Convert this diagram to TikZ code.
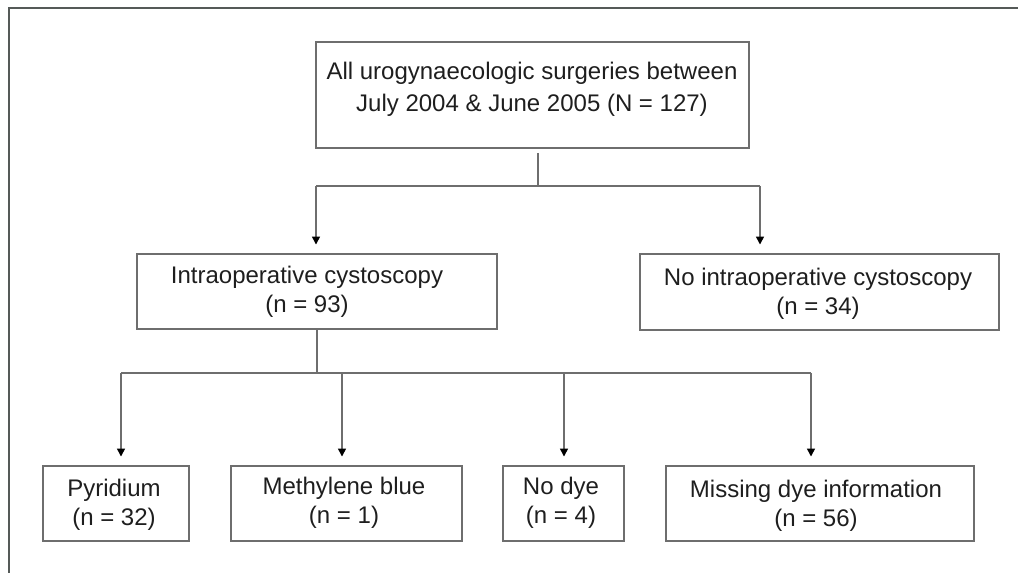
\documentclass[tikz,border=0pt]{standalone}
\usepackage{fontspec}
\setmainfont{Liberation Sans}
\usetikzlibrary{arrows.meta}
\definecolor{linegray}{RGB}{110,110,110}
\definecolor{framegray}{RGB}{85,90,88}
\definecolor{txtcol}{RGB}{30,30,30}
\tikzset{
  boxnode/.style={draw=linegray, line width=1.2pt, rectangle, inner sep=0pt},
  txtnode/.style={align=center, text=txtcol, inner sep=0pt, font=\fontsize{18}{22}\selectfont},
  conn/.style={draw=linegray, line width=1.1pt},
  arr/.style={conn, -{Triangle[width=6pt,length=6pt,color=black]}, shorten >=6.5pt},
}
\begin{document}
\begin{tikzpicture}[x=0.75pt,y=-0.75pt]
\useasboundingbox (0,0) rectangle (1018,573);
% frame (left and top edges)
\draw[framegray, line width=1.6pt] (9,573) -- (9,8) -- (1018,8);

% boxes
\node[boxnode, minimum width=433*0.75pt, minimum height=106*0.75pt] (top) at (532.5,95) {};
\node[boxnode, minimum width=360*0.75pt, minimum height=75*0.75pt] (L) at (317,291.5) {};
\node[boxnode, minimum width=359*0.75pt, minimum height=76*0.75pt] (R) at (819.5,292) {};
\node[boxnode, minimum width=146*0.75pt, minimum height=75*0.75pt] (P) at (116,503.5) {};
\node[boxnode, minimum width=231*0.75pt, minimum height=75*0.75pt] (M) at (346.5,503.5) {};
\node[boxnode, minimum width=121*0.75pt, minimum height=75*0.75pt] (N) at (563.5,503.5) {};
\node[boxnode, minimum width=308*0.75pt, minimum height=75*0.75pt] (D) at (820,503.5) {};

% texts
\node[txtnode, font=\fontsize{18}{24}\selectfont] (ttop) at (532,89) {All urogynaecologic surgeries between\\July 2004 \& June 2005 (N = 127)};
\node[txtnode] (tL) at (307,291.5) {Intraoperative cystoscopy\\(n = 93)};
\node[txtnode] (tR) at (818,294) {No intraoperative cystoscopy\\(n = 34)};
\node[txtnode] (tP) at (114,505) {Pyridium\\(n = 32)};
\node[txtnode] (tM) at (344,503) {Methylene blue\\(n = 1)};
\node[txtnode] (tN) at (561,503) {No dye\\(n = 4)};
\node[txtnode] (tD) at (816,505.5) {Missing dye information\\(n = 56)};

% junction coordinates
\coordinate (j1) at (538,186);
\coordinate (j1l) at (316,186);
\coordinate (j1r) at (760,186);
\coordinate (j2) at (317,373);
\coordinate (j2a) at (121,373);
\coordinate (j2b) at (342,373);
\coordinate (j2c) at (564,373);
\coordinate (j2d) at (811,373);

% first level
\draw[conn] ([yshift=-3pt]top.south -| j1) -- (j1);
\draw[conn] (j1l) -- (j1r);
\draw[arr] (j1l) -- (L.north -| j1l);
\draw[arr] (j1r) -- (R.north -| j1r);

% second level
\draw[conn] (L.south -| j2) -- (j2);
\draw[conn] (j2a) -- (j2d);
\draw[arr] (j2a) -- (P.north -| j2a);
\draw[arr] (j2b) -- (M.north -| j2b);
\draw[arr] (j2c) -- (N.north -| j2c);
\draw[arr] (j2d) -- (D.north -| j2d);
\end{tikzpicture}
\end{document}
